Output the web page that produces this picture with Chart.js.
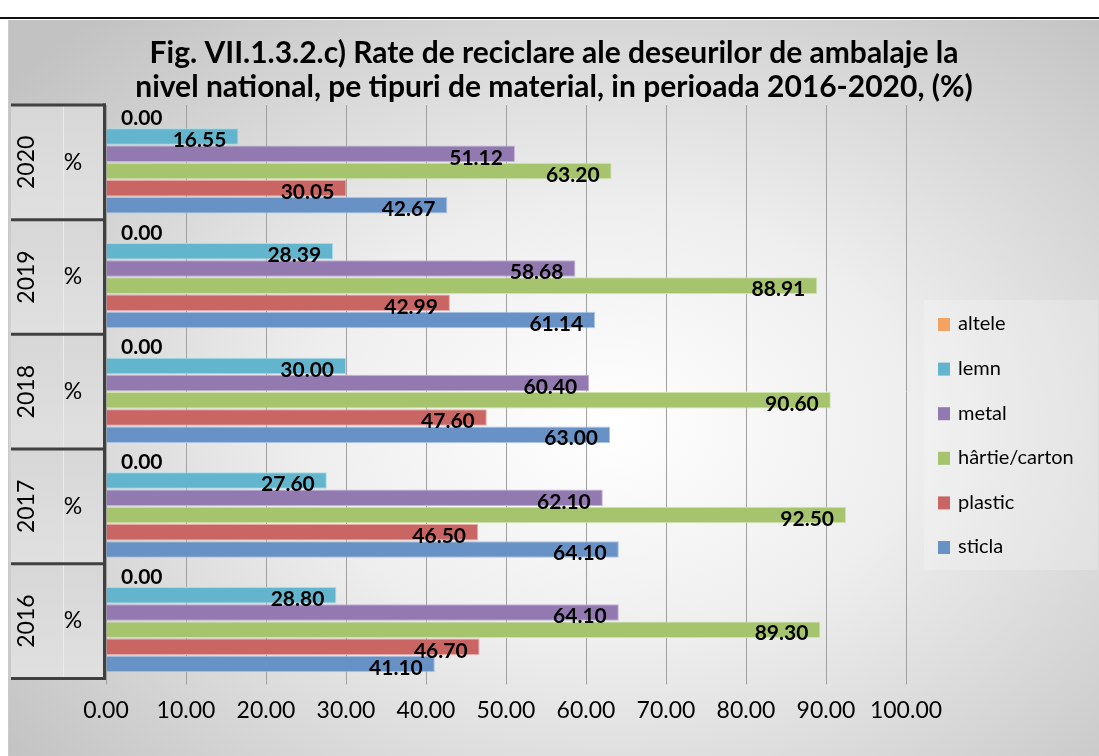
<!DOCTYPE html>
<html>
<head>
<meta charset="utf-8">
<script src="https://cdn.jsdelivr.net/npm/chart.js@4.4.1/dist/chart.umd.min.js"></script>
<style>
  html, body { margin: 0; padding: 0; background: #ffffff; }
  #topline { position: absolute; left: 0; top: 17px; width: 1099px; height: 2px; background: #111; }
  #box {
    position: absolute; left: 8px; top: 20px; width: 1091px; height: 736px;
    background: radial-gradient(ellipse 70% 75% at 55% 55%, #ffffff 0%, #eeeeee 40%, #d2d2d2 78%, #c2c2c2 100%);
    border-left: 1px solid #c9c9c9;
  }
</style>
</head>
<body>
<div id="topline"></div>
<div id="box"><canvas id="chart" width="1091" height="736"></canvas></div>
<script>
const titleLines = ['Fig. VII.1.3.2.c) Rate de reciclare ale deseurilor de ambalaje la',
                    'nivel national, pe tipuri de material, in perioada 2016-2020, (%)'];
const years = ['2020', '2019', '2018', '2017', '2016'];
const unitLabel = '%';
const seriesNames = ['altele', 'lemn', 'metal', 'hârtie/carton', 'plastic', 'sticla'];
const altele = [0, 0, 0, 0, 0];
const lemn = [16.55, 28.39, 30.00, 27.60, 28.80];
const metal = [51.12, 58.68, 60.40, 62.10, 64.10];
const hartie = [63.20, 88.91, 90.60, 92.50, 89.30];
const plastic = [30.05, 42.99, 47.60, 46.50, 46.70];
const sticla = [42.67, 61.14, 63.00, 64.10, 41.10];
const xTicks = [0, 10, 20, 30, 40, 50, 60, 70, 80, 90, 100];

const fills = ['#f5a262', '#62b5cc', '#9279b0', '#a6c36e', '#c96663', '#6892c6'];
const edges = ['#fac9a0', '#a9dbe8', '#c2b2d8', '#d0e3ad', '#e6aaa8', '#a9c4e6'];

const allSeries = [altele, lemn, metal, hartie, plastic, sticla];

// title drawn by hand so it centres on the whole box, not on the plot
const chartTitle = {
    id: 'chartTitle',
    afterDraw(chart) {
        const ctx = chart.ctx;
        ctx.save();
        ctx.font = 'bold 30px Lato';
        ctx.fillStyle = '#000';
        ctx.textAlign = 'center';
        ctx.textBaseline = 'middle';
        titleLines.forEach((t, i) => ctx.fillText(t, 545, 33 + i * 34));
        ctx.restore();
    }
};

const categoryTable = {
    id: 'categoryTable',
    afterDraw(chart) {
        const ctx = chart.ctx;
        const area = chart.chartArea;
        const y = chart.scales.y;
        const x0 = 2, xMid = 54, x1 = area.left - 2;
        const half = (area.bottom - area.top) / years.length / 2;
        ctx.save();
        years.forEach((yr, i) => {
            const c = y.getPixelForValue(i);
            const top = c - half, bot = c + half;
            const g = ctx.createLinearGradient(0, top, 0, bot);
            g.addColorStop(0, '#d7d7d7');
            g.addColorStop(1, '#e0e0e0');
            ctx.fillStyle = g;
            ctx.fillRect(x0, top, x1 - x0, bot - top);
            ctx.strokeStyle = '#ebebeb';
            ctx.lineWidth = 1;
            ctx.beginPath();
            ctx.moveTo(xMid + 0.5, top);
            ctx.lineTo(xMid + 0.5, bot);
            ctx.stroke();
            ctx.fillStyle = '#000';
            ctx.font = '23px Lato';
            ctx.textAlign = 'center';
            ctx.textBaseline = 'middle';
            ctx.save();
            ctx.translate(18, c);
            ctx.rotate(-Math.PI / 2);
            ctx.fillText(yr, 0, 0);
            ctx.restore();
            ctx.fillText(unitLabel, 64, c);
        });
        ctx.strokeStyle = '#404040';
        ctx.lineWidth = 3;
        for (let i = 0; i <= years.length; i++) {
            const yy = area.top + (area.bottom - area.top) * i / years.length;
            ctx.beginPath();
            ctx.moveTo(x0, yy);
            ctx.lineTo(area.left, yy);
            ctx.stroke();
        }
        ctx.beginPath();
        ctx.moveTo(area.left - 1.5, area.top - 1.5);
        ctx.lineTo(area.left - 1.5, area.bottom + 1.5);
        ctx.stroke();
        ctx.restore();
    }
};

const barLabels = {
    id: 'barLabels',
    afterDatasetsDraw(chart) {
        const ctx = chart.ctx;
        ctx.save();
        ctx.font = 'bold 21px Lato';
        ctx.fillStyle = '#000';
        ctx.textBaseline = 'middle';
        chart.data.datasets.forEach((ds, di) => {
            const meta = chart.getDatasetMeta(di);
            meta.data.forEach((bar, i) => {
                const v = ds.data[i];
                const txt = v.toFixed(2);
                if (v === 0) {
                    ctx.textAlign = 'left';
                    ctx.fillText(txt, chart.chartArea.left + 15, bar.y - 1);
                } else {
                    ctx.textAlign = 'right';
                    ctx.fillText(txt, bar.x - 12, bar.y + 4);
                }
            });
        });
        ctx.restore();
    }
};

const sideLegend = {
    id: 'sideLegend',
    afterDraw(chart) {
        const ctx = chart.ctx;
        ctx.save();
        ctx.fillStyle = 'rgba(255,255,255,0.22)';
        ctx.fillRect(915, 280, 174, 270);
        ctx.font = '20px Lato';
        ctx.textBaseline = 'middle';
        ctx.textAlign = 'left';
        seriesNames.forEach((name, i) => {
            const cy = 304 + i * 44.6;
            ctx.fillStyle = fills[i];
            ctx.fillRect(929, cy - 6, 12, 13);
            ctx.fillStyle = '#000';
            ctx.fillText(name, 949, cy);
        });
        ctx.restore();
    }
};

new Chart(document.getElementById('chart'), {
    type: 'bar',
    data: {
        labels: years,
        datasets: allSeries.map((vals, i) => ({
            label: seriesNames[i],
            data: vals,
            backgroundColor: fills[i],
            borderColor: edges[i],
            borderWidth: 1,
            barPercentage: 0.96,
            categoryPercentage: 0.9
        }))
    },
    options: {
        indexAxis: 'y',
        responsive: false,
        animation: false,
        layout: { padding: { left: 0, right: 194, top: 85, bottom: 20 } },
        scales: {
            x: {
                min: 0,
                max: 100,
                afterBuildTicks: (scale) => { scale.ticks = xTicks.map(v => ({ value: v })); },
                ticks: {
                    callback: (v) => Number(v).toFixed(2),
                    color: '#000',
                    font: { family: 'Lato', size: 23 },
                    padding: 12,
                    maxRotation: 0
                },
                grid: { color: '#a0a0a0', lineWidth: 1, tickLength: 6, drawTicks: true },
                border: { display: false }
            },
            y: {
                ticks: { display: false },
                grid: { display: false },
                border: { display: false },
                afterFit: (scale) => { scale.width = 97; }
            }
        },
        plugins: {
            legend: { display: false },
            tooltip: { enabled: false },
            title: { display: false }
        }
    },
    plugins: [categoryTable, barLabels, sideLegend, chartTitle]
});
</script>
</body>
</html>
